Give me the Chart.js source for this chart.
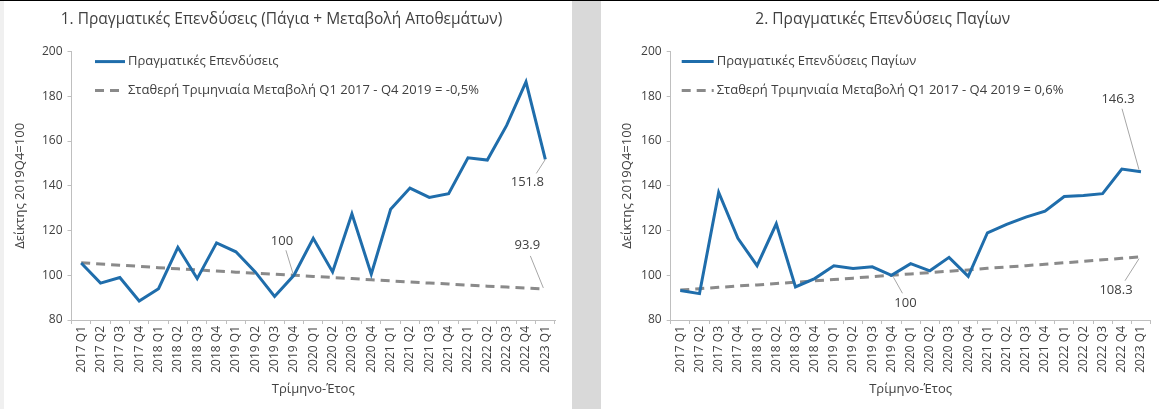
<!DOCTYPE html>
<html>
<head>
<meta charset="utf-8">
<script src="https://cdn.jsdelivr.net/npm/chart.js@4.4.1/dist/chart.umd.min.js"></script>
<style>
  html, body { margin: 0; padding: 0; }
  body { width: 1159px; height: 409px; position: relative; background: #fff; overflow: hidden; }
  .strip { position: absolute; top: 0; bottom: 0; }
  .box { position: absolute; top: 2px; height: 407px; background: #fff; }
  #topline { position: absolute; left: 0; top: 0; width: 1159px; height: 1px; background: #000; }
</style>
</head>
<body>
<div class="strip" style="left:0;width:4px;background:#f0f0f0"></div>
<div class="strip" style="left:572px;width:29px;background:#d9d9d9"></div>
<div class="box" style="left:4px;width:568px"><canvas id="chart1"></canvas></div>
<div class="box" style="left:601px;width:558px"><canvas id="chart2"></canvas></div>
<div id="topline"></div>
<script>
// quarters 2017 Q1 - 2023 Q1
var quarters = ['2017 Q1','2017 Q2','2017 Q3','2017 Q4','2018 Q1','2018 Q2','2018 Q3','2018 Q4',
  '2019 Q1','2019 Q2','2019 Q3','2019 Q4','2020 Q1','2020 Q2','2020 Q3','2020 Q4',
  '2021 Q1','2021 Q2','2021 Q3','2021 Q4','2022 Q1','2022 Q2','2022 Q3','2022 Q4','2023 Q1'];

// chart 1: real investment (fixed + change in inventories), 2019Q4=100
var invTotal = [105.5, 96.5, 99, 88.5, 94, 112.5, 98.5, 114.5, 110.5, 101.5, 90.5, 100,
  116.5, 101.5, 127.5, 100.5, 129.5, 139, 134.8, 136.5, 152.5, 151.5, 167, 186.5, 151.8];
var trendTotal = [105.6, 105.0, 104.5, 104.0, 103.4, 102.9, 102.4, 101.9, 101.4, 100.9, 100.5, 100,
  99.5, 99.0, 98.5, 98.0, 97.5, 97.0, 96.5, 96.1, 95.6, 95.1, 94.7, 94.3, 93.9];

// chart 2: real fixed investment, 2019Q4=100
var invFixed = [93.2, 91.8, 137, 116.5, 104.3, 123, 94.8, 98.5, 104.2, 103, 103.8, 100,
  105.2, 102, 108, 99.5, 119, 122.8, 126, 128.7, 135.2, 135.7, 136.5, 147.5, 146.3];
var trendFixed = [93.4, 94.0, 94.6, 95.2, 95.7, 96.3, 96.9, 97.5, 98.1, 98.7, 99.4, 100,
  100.6, 101.2, 101.8, 102.4, 103.1, 103.7, 104.3, 104.9, 105.6, 106.2, 106.9, 107.6, 108.3];

var yMin = 80, yMax = 200, yStep = 20;

var FONT = '"Open Sans", sans-serif';
var TXT = '#404040';
var BLUE = '#1f6dab';
var GREY = '#8a8a8a';
var AXIS = '#bfbfbf';

// legend inside plot + value call-outs with leader lines
var extras = {
  id: 'extras',
  afterDraw: function(chart, args, opts) {
    var ctx = chart.ctx;
    var area = chart.chartArea;
    ctx.save();
    ctx.font = '13px ' + FONT;
    ctx.textBaseline = 'middle';
    opts.legend.forEach(function(l, i) {
      var y = area.top + l.y;
      var ds = chart.data.datasets[i];
      ctx.strokeStyle = ds.borderColor;
      ctx.lineWidth = 3;
      ctx.setLineDash(ds.borderDash || []);
      ctx.beginPath();
      ctx.moveTo(area.left + l.x1, y);
      ctx.lineTo(area.left + l.x2, y);
      ctx.stroke();
      ctx.setLineDash([]);
      ctx.fillStyle = TXT;
      ctx.textAlign = 'left';
      ctx.fillText(ds.label, area.left + l.x2 + 3, y);
    });
    ctx.font = '13px ' + FONT;
    ctx.textAlign = 'center';
    opts.notes.forEach(function(n) {
      var pt = chart.getDatasetMeta(n.ds).data[n.i];
      ctx.strokeStyle = '#a6a6a6';
      ctx.lineWidth = 1;
      ctx.beginPath();
      ctx.moveTo(pt.x + n.l[0], pt.y + n.l[1]);
      ctx.lineTo(pt.x + n.l[2], pt.y + n.l[3]);
      ctx.stroke();
      ctx.fillStyle = TXT;
      ctx.fillText(n.text, pt.x + n.t[0], pt.y + n.t[1]);
    });
    ctx.restore();
  }
};

function makeChart(id, o) {
  return new Chart(document.getElementById(id), {
    type: 'line',
    data: {
      labels: quarters,
      datasets: [
        { label: o.names[0], data: o.actual, borderColor: BLUE, borderWidth: 3, pointRadius: 0, tension: 0 },
        { label: o.names[1], data: o.trend, borderColor: GREY, borderWidth: 3, borderDash: [9, 6], pointRadius: 0, tension: 0 }
      ]
    },
    options: {
      responsive: true,
      maintainAspectRatio: false,
      animation: false,
      layout: { padding: { left: o.padLeft, right: o.padRight, top: 0, bottom: 0 } },
      plugins: {
        legend: { display: false },
        tooltip: { enabled: false },
        title: { display: true, text: o.title, color: TXT, font: { family: FONT, size: 15.5, weight: 'normal' }, padding: { top: 8, bottom: 23 } },
        extras: { legend: o.legend, notes: o.notes }
      },
      scales: {
        x: {
          offset: true,
          grid: { offset: true, drawOnChartArea: false, tickLength: 4, color: AXIS },
          border: { color: AXIS },
          ticks: { minRotation: 90, maxRotation: 90, autoSkip: false, color: TXT, font: { family: FONT, size: 12 }, padding: 2 },
          title: { display: true, text: 'Τρίμηνο-Έτος', color: TXT, font: { family: FONT, size: 13 }, padding: { top: 2, bottom: 12 } },
          afterFit: function(s) { s.height = 89; }
        },
        y: {
          min: yMin,
          max: yMax,
          grid: { drawOnChartArea: false, tickLength: 4, color: AXIS },
          border: { color: AXIS },
          ticks: { stepSize: yStep, color: TXT, font: { family: FONT, size: 12 }, padding: 5 },
          title: { display: true, text: 'Δείκτης 2019Q4=100', color: TXT, font: { family: FONT, size: 13 }, padding: { top: 4, bottom: 4 } },
          afterFit: function(s) { s.width = o.yWidth; }
        }
      }
    },
    plugins: [extras]
  });
}

makeChart('chart1', {
  title: '1. Πραγματικές Επενδύσεις (Πάγια + Μεταβολή Αποθεμάτων)',
  names: ['Πραγματικές Επενδύσεις', 'Σταθερή Τριμηνιαία Μεταβολή Q1 2017 - Q4 2019 = -0,5%'],
  actual: invTotal,
  trend: trendTotal,
  padLeft: 4, padRight: 17, yWidth: 63.5,
  legend: [{ y: 10, x1: 23.5, x2: 53.5 }, { y: 39, x1: 23.5, x2: 53.5 }],
  notes: [
    { ds: 0, i: 24, text: '151.8', t: [-18, 23], l: [-9, 14, 0, 0] },
    { ds: 0, i: 11, text: '100', t: [-12, -34], l: [-8, -25, -1, -2] },
    { ds: 1, i: 24, text: '93.9', t: [-18, -44], l: [-15, -33, -2, -1] }
  ]
});

makeChart('chart2', {
  title: '2. Πραγματικές Επενδύσεις Παγίων',
  names: ['Πραγματικές Επενδύσεις Παγίων', 'Σταθερή Τριμηνιαία Μεταβολή Q1 2017 - Q4 2019 = 0,6%'],
  actual: invFixed,
  trend: trendFixed,
  padLeft: 14, padRight: 8.4, yWidth: 55.7,
  legend: [{ y: 10, x1: 11, x2: 43 }, { y: 39, x1: 11, x2: 43 }],
  notes: [
    { ds: 0, i: 24, text: '146.3', t: [-23, -72], l: [-19, -63, -2, -2] },
    { ds: 0, i: 11, text: '100', t: [14, 28], l: [11, 18, 2, 2] },
    { ds: 1, i: 24, text: '108.3', t: [-25, 34], l: [-16, 24, -2, 2] }
  ]
});
</script>
</body>
</html>
